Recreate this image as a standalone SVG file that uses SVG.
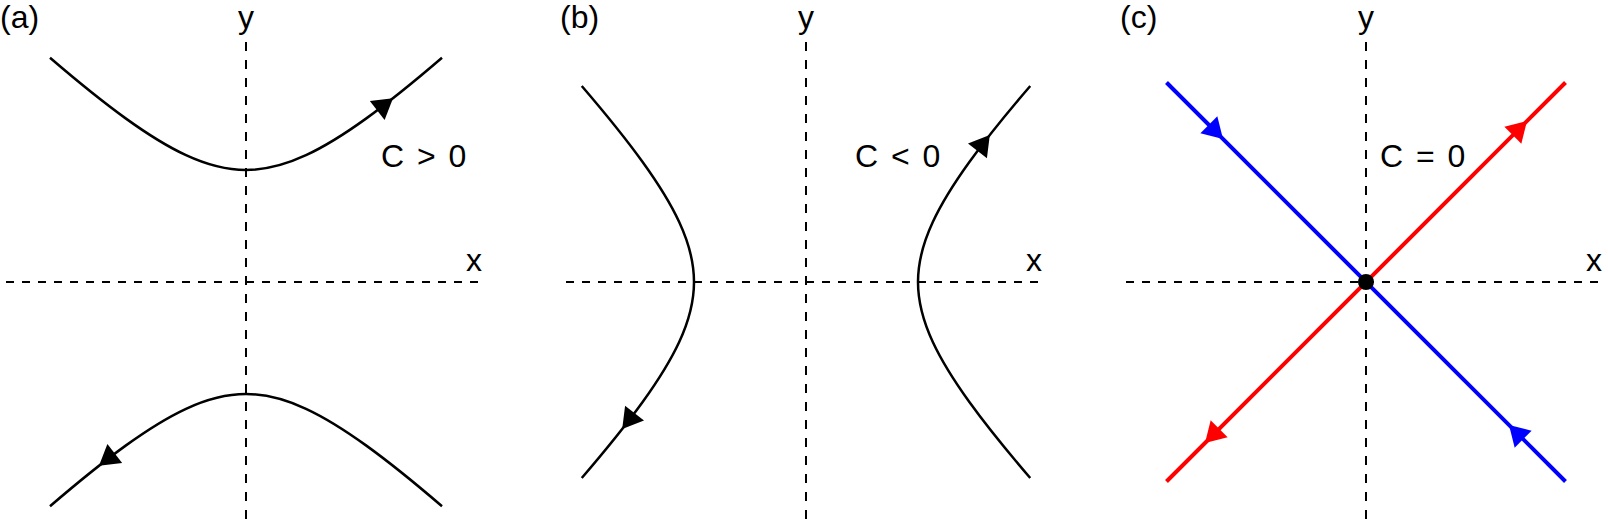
<svg xmlns="http://www.w3.org/2000/svg" width="1608" height="530" viewBox="0 0 1608 530">
<style>
  .bg { fill: #ffffff; }
  .axh { stroke: #000; stroke-width: 2; stroke-dasharray: 8 8; fill: none; }
  .axv { stroke: #000; stroke-width: 2; stroke-dasharray: 9 9; fill: none; }
  .curve { stroke: #000; stroke-width: 2.5; fill: none; }
  .blue { stroke: #0000ff; stroke-width: 4; fill: none; }
  .red { stroke: #ff0000; stroke-width: 4; fill: none; }
  .ahk { fill: #000; }
  .ahb { fill: #0000ff; }
  .ahr { fill: #ff0000; }
  text { font-family: "Liberation Sans", Arial, Helvetica, sans-serif; font-size: 32px; fill: #000; }
  .mid { text-anchor: middle; }
  .cl { word-spacing: 4px; }
</style>
<defs>
  <path id="branch" d="M -196,-224.24 C -170.67,-202.49 -145.33,-181.65 -120,-163.37 C -100,-148.94 -80,-136.11 -60,-126.81 C -40,-117.51 -20,-112 0,-112 C 20,-112 40,-117.51 60,-126.81 C 80,-136.11 100,-148.94 120,-163.37 C 145.33,-181.65 170.67,-202.49 196,-224.24"/>
  <path id="ah" d="M 0,0 L -20,-12 L -20,12 Z"/>
</defs>
<rect class="bg" x="0" y="0" width="1608" height="530"/>

<g id="panel-a">
  <g id="axes-a">
    <line class="axh" x1="6" y1="282" x2="478" y2="282"/>
    <line class="axv" x1="246" y1="42" x2="246" y2="528"/>
  </g>
  <text x="0" y="28">(a)</text>
  <text class="mid" x="246" y="28">y</text>
  <text x="466" y="271">x</text>
  <text class="cl" x="381" y="167">C &gt; 0</text>
  <g id="a-upper" transform="translate(246,282)">
    <use class="curve" href="#branch"/>
    <use class="ahk" href="#ah" transform="translate(147,-183.77) rotate(-37.95)"/>
  </g>
  <g id="a-lower" transform="translate(246,282) rotate(180)">
    <use class="curve" href="#branch"/>
    <use class="ahk" href="#ah" transform="translate(147,-183.77) rotate(-37.95)"/>
  </g>
</g>

<g id="panel-b">
  <g id="axes-b">
    <line class="axh" x1="566" y1="282" x2="1038" y2="282"/>
    <line class="axv" x1="806" y1="42" x2="806" y2="528"/>
  </g>
  <text x="560" y="28">(b)</text>
  <text class="mid" x="806" y="28">y</text>
  <text x="1026" y="271">x</text>
  <text class="cl" x="855" y="167">C &lt; 0</text>
  <g id="b-right" transform="matrix(0,-1,-1,0,806,282)">
    <use class="curve" href="#branch"/>
    <use class="ahk" href="#ah" transform="translate(147,-183.77) rotate(-37.95)"/>
  </g>
  <g id="b-left" transform="matrix(0,1,1,0,806,282)">
    <use class="curve" href="#branch"/>
    <use class="ahk" href="#ah" transform="translate(147,-183.77) rotate(-37.95)"/>
  </g>
</g>

<g id="panel-c">
  <g id="axes-c">
    <line class="axh" x1="1126" y1="282" x2="1598" y2="282"/>
    <line class="axv" x1="1366" y1="42" x2="1366" y2="528"/>
  </g>
  <text x="1120" y="28">(c)</text>
  <text class="mid" x="1366" y="28">y</text>
  <text x="1586" y="271">x</text>
  <text class="cl" x="1380" y="167">C = 0</text>
  <g id="c-stable">
    <line class="blue" x1="1166.5" y1="82.5" x2="1565.5" y2="481.5"/>
    <use class="ahb" href="#ah" transform="translate(1223,139) rotate(45)"/>
    <use class="ahb" href="#ah" transform="translate(1509,425) rotate(-135)"/>
  </g>
  <g id="c-unstable">
    <line class="red" x1="1166.5" y1="481.5" x2="1565.5" y2="82.5"/>
    <use class="ahr" href="#ah" transform="translate(1527,121) rotate(-45)"/>
    <use class="ahr" href="#ah" transform="translate(1205,443) rotate(135)"/>
  </g>
  <circle id="saddle" cx="1366" cy="282" r="8" fill="#000"/>
</g>
</svg>
